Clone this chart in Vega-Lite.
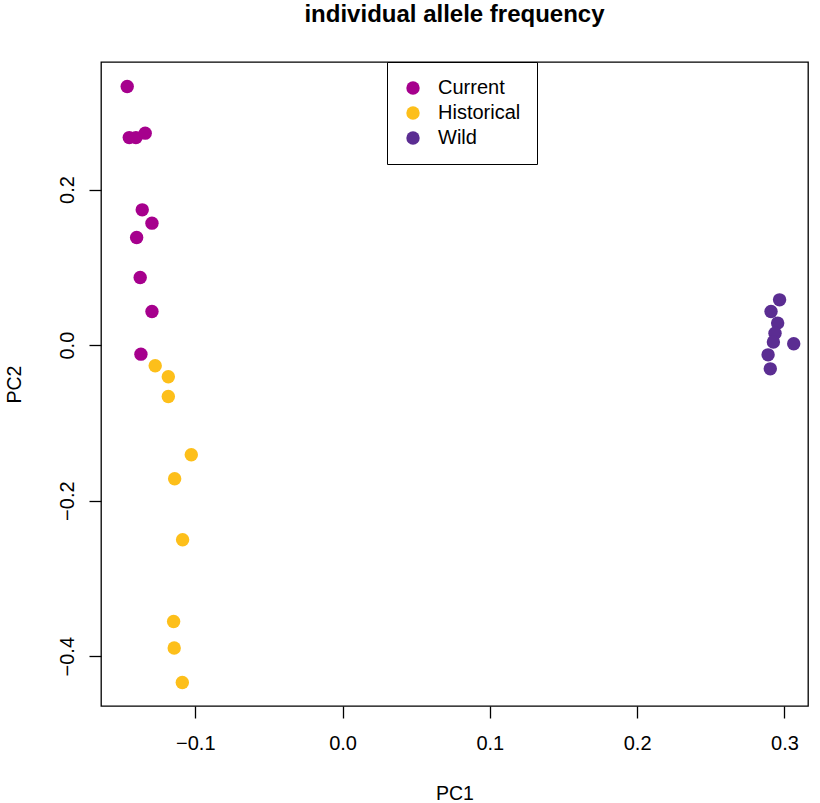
{
  "$schema": "https://vega.github.io/schema/vega-lite/v6.json",
  "width": 707,
  "height": 644,
  "autosize": {"type": "none"},
  "padding": {"left": 101, "top": 62, "right": 12, "bottom": 97},
  "background": "white",
  "title": {"text": "individual allele frequency", "fontSize": 24, "font": "Liberation Sans", "fontWeight": "bold", "anchor": "middle", "offset": 35, "color": "black"},
  "config": {
    "font": "Liberation Sans",
    "view": {"stroke": "black", "strokeWidth": 1.3},
    "axis": {"grid": false, "domain": false, "tickColor": "black", "tickSize": 12, "tickWidth": 1.3, "labelColor": "black", "titleColor": "black", "labelFontSize": 20, "titleFontSize": 19.5, "titleFontWeight": "normal", "labelFont": "Liberation Sans", "titleFont": "Liberation Sans"}
  },
  "data": {"values": [
    {"group": "Current", "PC1": -0.1462, "PC2": 0.3324},
    {"group": "Current", "PC1": -0.1448, "PC2": 0.2668},
    {"group": "Current", "PC1": -0.1403, "PC2": 0.2668},
    {"group": "Current", "PC1": -0.1340, "PC2": 0.2725},
    {"group": "Current", "PC1": -0.1360, "PC2": 0.1739},
    {"group": "Current", "PC1": -0.1294, "PC2": 0.1568},
    {"group": "Current", "PC1": -0.1398, "PC2": 0.1383},
    {"group": "Current", "PC1": -0.1374, "PC2": 0.0869},
    {"group": "Current", "PC1": -0.1294, "PC2": 0.0432},
    {"group": "Current", "PC1": -0.1369, "PC2": -0.0116},
    {"group": "Historical", "PC1": -0.1272, "PC2": -0.0266},
    {"group": "Historical", "PC1": -0.1183, "PC2": -0.0407},
    {"group": "Historical", "PC1": -0.1183, "PC2": -0.0661},
    {"group": "Historical", "PC1": -0.1027, "PC2": -0.1410},
    {"group": "Historical", "PC1": -0.1140, "PC2": -0.1719},
    {"group": "Historical", "PC1": -0.1086, "PC2": -0.2503},
    {"group": "Historical", "PC1": -0.1147, "PC2": -0.3553},
    {"group": "Historical", "PC1": -0.1143, "PC2": -0.3895},
    {"group": "Historical", "PC1": -0.1088, "PC2": -0.4337},
    {"group": "Wild", "PC1": 0.2967, "PC2": 0.0582},
    {"group": "Wild", "PC1": 0.2909, "PC2": 0.0432},
    {"group": "Wild", "PC1": 0.2954, "PC2": 0.0283},
    {"group": "Wild", "PC1": 0.2936, "PC2": 0.0154},
    {"group": "Wild", "PC1": 0.2925, "PC2": 0.0039},
    {"group": "Wild", "PC1": 0.3063, "PC2": 0.0017},
    {"group": "Wild", "PC1": 0.2889, "PC2": -0.0125},
    {"group": "Wild", "PC1": 0.2904, "PC2": -0.0305}
  ]},
  "mark": {"type": "circle", "opacity": 1, "size": 180},
  "encoding": {
    "x": {"field": "PC1", "type": "quantitative", "scale": {"domain": [-0.164, 0.316], "nice": false, "zero": false},
      "axis": {"values": [-0.1, 0.0, 0.1, 0.2, 0.3], "format": ".1f", "labelPadding": 15, "titlePadding": 31, "title": "PC1"}},
    "y": {"field": "PC2", "type": "quantitative", "scale": {"domain": [-0.464, 0.364], "nice": false, "zero": false},
      "axis": {"values": [-0.4, -0.2, 0.0, 0.2], "format": ".1f", "labelAngle": -90, "labelAlign": "center", "labelBaseline": "bottom", "labelPadding": 12, "titlePadding": 33, "title": "PC2"}},
    "color": {"field": "group", "type": "nominal",
      "scale": {"domain": ["Current", "Historical", "Wild"], "range": ["#a6008d", "#fdbf1a", "#5b2d92"]},
      "legend": {"title": null, "orient": "none", "legendX": 286, "legendY": 0, "direction": "vertical",
        "padding": 16, "strokeColor": "black", "fillColor": "white", "symbolType": "circle", "symbolSize": 180,
        "symbolOpacity": 1, "symbolOffset": 0, "labelOffset": 15, "labelFontSize": 20, "labelColor": "black", "rowPadding": 5, "labelFont": "Liberation Sans"}}
  }
}
